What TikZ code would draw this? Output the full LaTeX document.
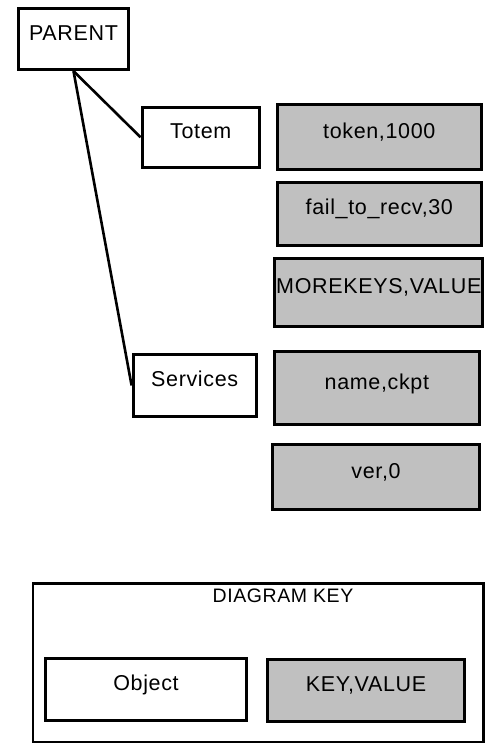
\documentclass[tikz,border=0pt]{standalone}
\usepackage{fontspec}
\setmainfont{Liberation Sans}[LetterSpace=3.0]
\definecolor{kvgray}{HTML}{C0C0C0}
\begin{document}
\begin{tikzpicture}[x=1pt, y=-1pt,
    every node/.style={font=\fontsize{21.5}{25}\selectfont, inner sep=0pt, text height=16pt, text depth=13.6pt},
    obj/.style={draw, line width=3.2pt, fill=white},
    kv/.style={draw, line width=3.2pt, fill=kvgray},
    link/.style={line width=2.6pt}]
\useasboundingbox (0,0) rectangle (488,743);
\node (parent) at (73.5, 39) [obj, minimum width=110pt, minimum height=61pt] {PARENT};
\node (totem) at (200.7, 137.3) [obj, minimum width=117pt, minimum height=60pt] {Totem};
\node (services) at (194.7, 385.5) [obj, minimum width=123pt, minimum height=61.4pt] {Services};
\node (token) at (379.3, 136.9) [kv, minimum width=203.7pt, minimum height=65.3pt] {token,1000};
\node (fail) at (379.3, 213.7) [kv, minimum width=203.7pt, minimum height=63pt] {fail\_to\_recv,30};
\node (more) at (378.8, 292.2) [kv, minimum width=208pt, minimum height=68pt] {MOREKEYS,VALUE};
\node (name) at (376.9, 387.9) [kv, minimum width=205pt, minimum height=72.7pt] {name,ckpt};
\node (ver) at (376, 477.2) [kv, minimum width=207pt, minimum height=64.7pt] {ver,0};

\node (key) at (258.3, 662.8) [draw, line width=2.5pt, minimum width=450.5pt, minimum height=158.6pt] {};
\node (keytitle) at (283, 601.7) [font=\fontsize{19.5}{23}\selectfont] {DIAGRAM KEY};
\node (object) at (146, 689.2) [obj, minimum width=200.4pt, minimum height=62pt] {Object};
\node (keyvalue) at (366, 690.7) [kv, minimum width=197pt, minimum height=61.7pt] {KEY,VALUE};

\draw[link] (parent.south) -- (totem.west);
\draw[link] (parent.south) -- (services.west);
\end{tikzpicture}
\end{document}
